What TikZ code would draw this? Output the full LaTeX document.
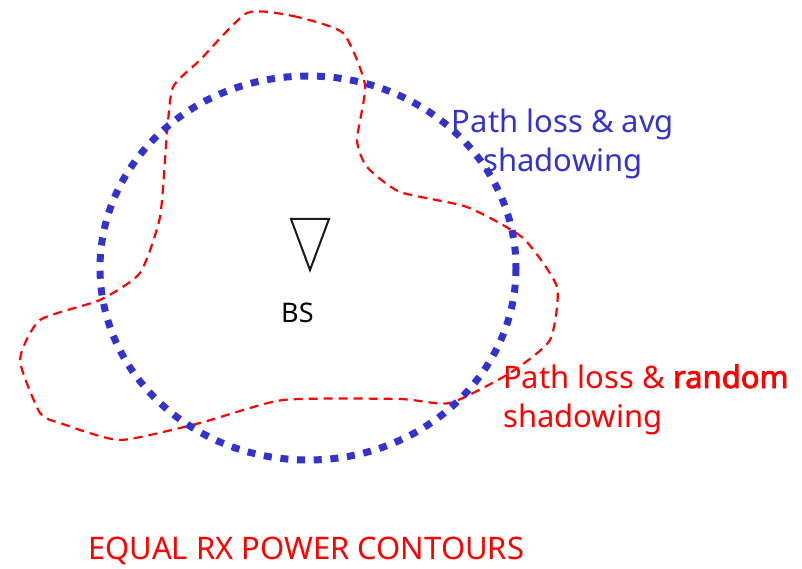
\documentclass[tikz,border=0pt]{standalone}
\usepackage{fontspec}
\setmainfont{Noto Sans}
\newfontfamily\heavyfont{Noto Sans}[FakeBold=2.5]
\usepackage{xcolor}
\usepackage{tikz}
\definecolor{avgblue}{RGB}{51,51,204}
\definecolor{rndred}{RGB}{255,0,0}

\begin{document}
\begin{tikzpicture}[
      x=1pt,y=-1pt,
      lbl/.style={inner sep=0pt,font=\fontsize{31}{39}\selectfont},
      avgline/.style={avgblue,line width=7pt,dash pattern=on 8pt off 8.7pt},
      rndline/.style={rndred,line width=2.2pt,dash pattern=on 9pt off 6pt}
]
\useasboundingbox (0,0) rectangle (802,569);

% contour with random shadowing
\draw[rndline] plot[smooth cycle,tension=0.35] coordinates {
      (247,13) (293,16) (343,33) (365,85) (357,140) (367,167) (400,192)
      (467,207) (523,238) (557,287) (550,340) (510,373) (450,403)
      (400,399) (283,400) (200,423) (120,440) (60,423) (40,413)
      (20,360) (40,320) (100,300) (140,273) (160,217) (167,133)
      (173,87) (200,60)};

% contour with average shadowing
\draw[avgline] (308,268) ellipse [x radius=208,y radius=192];

% base station
\draw[line width=2pt,black!90] (291,219) -- (329,219) -- (310,270) -- cycle;
\node[inner sep=0pt,anchor=base west,font=\fontsize{27}{30}\selectfont] (bs) at (281,322) {BS};

% anchor=base is on the last line
\node[lbl,avgblue,align=center,anchor=base] (avg) at (563,172) {Path loss \& avg\\shadowing};
\node[lbl,rndred,align=left,anchor=base west] (rnd) at (503,427) {Path loss \& {\heavyfont random}\\shadowing};
\node[lbl,rndred,anchor=base west] (title) at (88,559) {EQUAL RX POWER CONTOURS};
\end{tikzpicture}
\end{document}
